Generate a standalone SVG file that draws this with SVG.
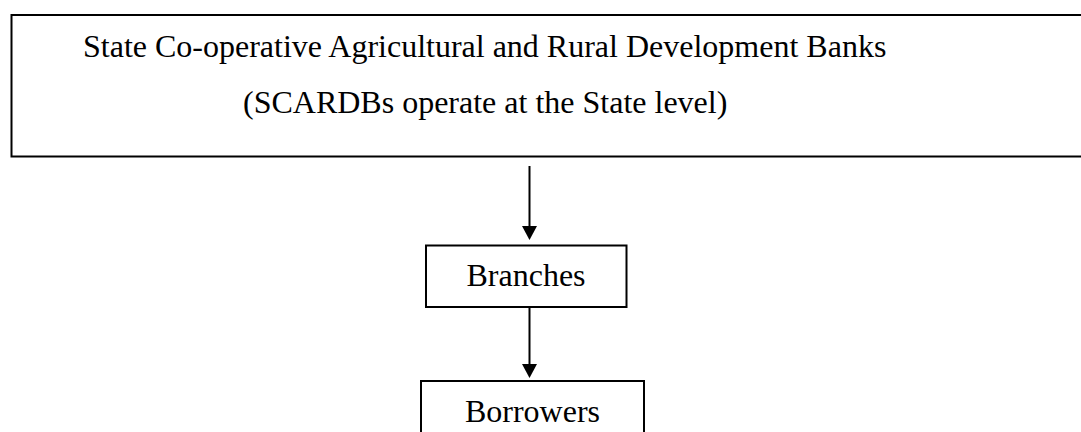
<svg xmlns="http://www.w3.org/2000/svg" width="1081" height="432" viewBox="0 0 1081 432">
<style>
.box{fill:#fff;stroke:#000;stroke-width:2}
.t{font-family:"Liberation Serif","Times New Roman",serif;font-size:32px;fill:#000}
.conn{stroke:#000;stroke-width:2;fill:none}
</style>
<defs>
<marker id="ah" viewBox="0 0 15 14" refX="7.5" refY="14" markerWidth="15" markerHeight="14" markerUnits="userSpaceOnUse" orient="auto-start-reverse">
<path d="M0,0 L15,0 L7.5,14 Z" fill="#000"/>
</marker>
</defs>
<rect width="1081" height="432" fill="#fff"/>
<g id="scardb">
<rect class="box" x="11.5" y="15" width="1080" height="141.5"/>
<text class="t" x="83" y="57">State Co-operative Agricultural and Rural Development Banks</text>
<text class="t" x="243" y="113">(SCARDBs operate at the State level)</text>
</g>
<g id="branches">
<rect class="box" x="426" y="245.5" width="200.5" height="61.5"/>
<text class="t" x="526" y="286" text-anchor="middle">Branches</text>
</g>
<g id="borrowers">
<rect class="box" x="421" y="381" width="223" height="60"/>
<text class="t" x="532.5" y="422" text-anchor="middle">Borrowers</text>
</g>
<g id="connectors">
<line class="conn" x1="529.5" y1="166" x2="529.5" y2="228" />
<path d="M522,226 L537,226 L529.5,240 Z" fill="#000"/>
<line class="conn" x1="529.5" y1="307" x2="529.5" y2="366" />
<path d="M522,364 L537,364 L529.5,378 Z" fill="#000"/>
</g>
</svg>
